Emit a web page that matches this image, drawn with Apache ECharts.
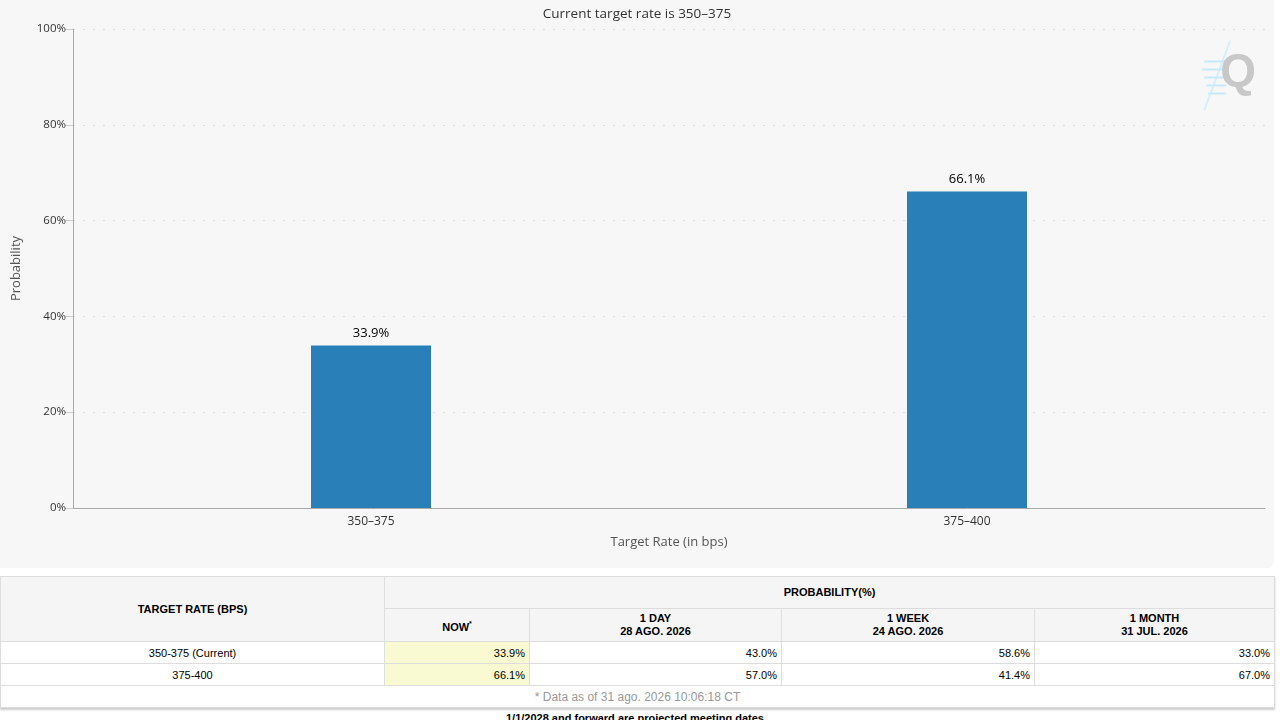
<!DOCTYPE html>
<html>
<head>
<meta charset="utf-8">
<script src="https://cdn.jsdelivr.net/npm/echarts@6/dist/echarts.min.js"></script>
<style>
  html,body{margin:0;padding:0;background:#fff;width:1280px;height:720px;overflow:hidden;font-family:"Liberation Sans",Arial,sans-serif;}
  #chart{position:absolute;left:0;top:0;width:1274px;height:568px;background:#f7f7f7;border-radius:0 0 6px 0;}
  #tbl{position:absolute;left:0;top:576px;width:1275px;border-collapse:collapse;box-shadow:0 2px 2px #ccc;}
  #tbl td,#tbl th{border:1px solid #ddd;font-size:11px;color:#000;padding:0 4px;}
  #tbl th{background:#f5f5f5;font-weight:bold;text-align:center;line-height:13px;}
  #tbl td{background:#fff;text-align:right;height:21px;}
  #tbl td.c{text-align:center;}
  #tbl td.now{background:#fafad2;}
  #tbl td.foot{color:#999;text-align:center;font-size:12px;height:21px;}
  #note{position:absolute;left:0;width:1270px;top:712px;text-align:center;font-size:11px;color:#000;font-weight:bold;}
</style>
</head>
<body>
<div id="chart"></div>
<table id="tbl"></table>
<div id="note">1/1/2028 and forward are projected meeting dates</div>
<script>
// ---- data ----
const titleText = 'Current target rate is 350–375';
const categories = ['350–375', '375–400'];
const probabilities = [33.9, 66.1];
const yTicks = [0, 20, 40, 60, 80, 100];

const tableRates = ['350-375 (Current)', '375-400'];
const colHeads = ['NOW', '1 DAY', '1 WEEK', '1 MONTH'];
const colDates = ['', '28 AGO. 2026', '24 AGO. 2026', '31 JUL. 2026'];
const nowVals = [33.9, 66.1];
const dayVals = [43.0, 57.0];
const weekVals = [58.6, 41.4];
const monthVals = [33.0, 67.0];
const footText = '* Data as of 31 ago. 2026 10:06:18 CT';

// ---- chart ----
const chart = echarts.init(document.getElementById('chart'));
chart.setOption({
  backgroundColor: 'transparent',
  animation: false,
  title: {
    text: titleText, left: 'center', top: 2,
    textStyle: {fontFamily: 'Open Sans', fontSize: 13.5, fontWeight: 'normal', color: '#333'}
  },
  grid: {left: 73, right: 9, top: 29, bottom: 60},
  xAxis: {
    type: 'category', data: categories,
    name: 'Target Rate (in bps)', nameLocation: 'middle', nameGap: 28,
    nameTextStyle: {fontFamily: 'Open Sans', fontSize: 13, color: '#555'},
    axisLine: {lineStyle: {color: '#aaa'}},
    axisTick: {alignWithLabel: true, lineStyle: {color: '#ccc'}, length: 8},
    axisLabel: {fontFamily: 'Open Sans', fontSize: 12, color: '#333', margin: 8}
  },
  yAxis: {
    type: 'value', min: yTicks[0], max: yTicks[yTicks.length - 1], interval: 20,
    name: 'Probability', nameLocation: 'middle', nameGap: 50,
    nameTextStyle: {fontFamily: 'Open Sans', fontSize: 13, color: '#555'},
    axisLine: {show: true, lineStyle: {color: '#aaa'}},
    axisTick: {show: true, length: 8, lineStyle: {color: '#ccc'}},
    axisLabel: {fontFamily: 'Open Sans', fontSize: 11.5, color: '#333', formatter: '{value}%', margin: 7},
    splitLine: {lineStyle: {color: '#ddd', type: [2, 8], width: 1}}
  },
  series: [{
    type: 'bar', data: probabilities, barWidth: 120,
    itemStyle: {color: '#2980b9'},
    label: {show: true, position: 'top', distance: 6, formatter: p => p.value.toFixed(1) + '%',
      fontFamily: 'Open Sans', fontSize: 13, color: '#000'}
  }],
  graphic: [
    {type: 'group', right: 18, top: 38, children: [
      {type: 'line', shape: {x1: 28, y1: 0, x2: 2, y2: 70}, style: {stroke: '#d4eefa', lineWidth: 2}},
      {type: 'rect', shape: {x: 2, y: 20, width: 22, height: 2}, style: {fill: '#c6eaf8'}},
      {type: 'rect', shape: {x: 0, y: 28, width: 24, height: 2}, style: {fill: '#c6eaf8'}},
      {type: 'rect', shape: {x: 2, y: 36, width: 22, height: 2}, style: {fill: '#c6eaf8'}},
      {type: 'rect', shape: {x: 4, y: 44, width: 20, height: 2}, style: {fill: '#c6eaf8'}},
      {type: 'rect', shape: {x: 6, y: 52, width: 18, height: 2}, style: {fill: '#c6eaf8'}},
      {type: 'text', x: 18, y: 10, style: {text: 'Q', fontFamily: 'Liberation Sans', fontWeight: 'bold', fontSize: 46, fill: '#c8c8c8'}}
    ]}
  ]
});

// ---- table ----
const fmt = v => v.toFixed(1) + '%';
const tbl = document.getElementById('tbl');
let html = '<colgroup><col style="width:384px"><col style="width:145px"><col style="width:252px"><col style="width:253px"><col></colgroup>';
html += '<tr style="height:32px"><th rowspan="2">TARGET RATE (BPS)</th><th colspan="4">PROBABILITY(%)</th></tr>';
html += '<tr style="height:33px">' + colHeads.map((h, i) =>
  '<th>' + h + (i === 0 ? '<sup style="font-size:7px">*</sup>' : '') + (colDates[i] ? '<br>' + colDates[i] : '') + '</th>').join('') + '</tr>';
tableRates.forEach((r, i) => {
  html += '<tr style="height:22px"><td class="c">' + r + '</td><td class="now">' + fmt(nowVals[i]) + '</td><td>' + fmt(dayVals[i]) +
    '</td><td>' + fmt(weekVals[i]) + '</td><td>' + fmt(monthVals[i]) + '</td></tr>';
});
html += '<tr style="height:22px"><td class="foot" colspan="5">' + footText + '</td></tr>';
tbl.innerHTML = html;
</script>
</body>
</html>
